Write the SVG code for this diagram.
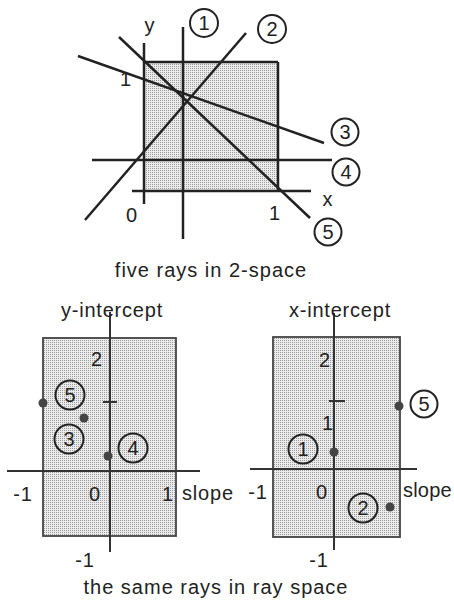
<svg xmlns="http://www.w3.org/2000/svg" width="454" height="600" viewBox="0 0 454 600">
<defs>
<pattern id="stip" width="2" height="2" patternUnits="userSpaceOnUse">
<rect width="2" height="2" fill="#ececec"/>
<rect width="1" height="1" fill="#9a9a9a"/>
</pattern>
</defs>
<style>
.ln{stroke:#222;stroke-width:2.5;fill:none;stroke-linecap:butt}
.ax{stroke:#333;stroke-width:2;fill:none}
.bx{stroke:#444;stroke-width:1.8;fill:url(#stip)}
.t{font-family:"Liberation Sans",Arial,sans-serif;font-size:20px;fill:#222;letter-spacing:0.8px}
.c{fill:#fff;fill-opacity:0;stroke:#222;stroke-width:2}
.ct{font-family:"Liberation Sans",Arial,sans-serif;font-size:20px;fill:#222;text-anchor:middle}
.dot{fill:#444}
</style>

<g id="top-plot">
<rect x="144" y="62" width="134" height="129" fill="url(#stip)"/>
<line class="ln" x1="144" y1="62" x2="278" y2="62"/>
<line class="ln" x1="278" y1="62" x2="278" y2="191"/>
<line class="ln" x1="144" y1="43" x2="144" y2="204"/>
<line class="ln" x1="132" y1="191" x2="311" y2="191"/>
<text class="t" x="150" y="32" text-anchor="middle">y</text>
<text class="t" x="126" y="86" text-anchor="middle">1</text>
<text class="t" x="132" y="222" text-anchor="middle">0</text>
<text class="t" x="275" y="220" text-anchor="middle">1</text>
<text class="t" x="328" y="206" text-anchor="middle">x</text>
</g>

<g id="rays">
<line class="ln" x1="183" y1="27" x2="183" y2="239"/>
<line class="ln" x1="85" y1="220" x2="246" y2="33"/>
<line class="ln" x1="78" y1="56" x2="324" y2="143"/>
<line class="ln" x1="92" y1="160" x2="332" y2="160"/>
<line class="ln" x1="119" y1="37" x2="310" y2="218"/>
</g>

<g id="ray-labels">
<g id="r1"><circle class="c" cx="204" cy="23" r="14"/><text class="ct" x="204" y="30">1</text></g>
<g id="r2"><circle class="c" cx="272" cy="29" r="14"/><text class="ct" x="272" y="36">2</text></g>
<g id="r3"><circle class="c" cx="345" cy="132" r="13.5"/><text class="ct" x="345" y="139">3</text></g>
<g id="r4"><circle class="c" cx="346" cy="172" r="13.5"/><text class="ct" x="346" y="179">4</text></g>
<g id="r5"><circle class="c" cx="328" cy="232" r="13.5"/><text class="ct" x="328" y="239">5</text></g>
</g>

<text class="t" x="211" y="277" text-anchor="middle" style="letter-spacing:1px">five rays in 2-space</text>

<g id="yint-plot">
<rect class="bx" x="43" y="338" width="133" height="198"/>
<line class="ax" x1="110" y1="312" x2="110" y2="552"/>
<line class="ax" x1="7" y1="471" x2="200" y2="471"/>
<line class="ax" x1="103" y1="402" x2="117" y2="402"/>
<text class="t" x="112" y="317" text-anchor="middle">y-intercept</text>
<text class="t" x="97" y="366" text-anchor="middle">2</text>
<text class="t" x="23" y="501" text-anchor="middle">-1</text>
<text class="t" x="95" y="501" text-anchor="middle">0</text>
<text class="t" x="168" y="501" text-anchor="middle">1</text>
<text class="t" x="182" y="500">slope</text>
<text class="t" x="85" y="567" text-anchor="middle">-1</text>
<circle class="dot" cx="43" cy="403" r="4.5"/>
<circle class="dot" cx="84" cy="418" r="4.5"/>
<circle class="dot" cx="108" cy="456" r="4.5"/>
<g id="y5"><circle class="c" cx="70" cy="395" r="14.5"/><text class="ct" x="70" y="402">5</text></g>
<g id="y3"><circle class="c" cx="69" cy="439" r="14.5"/><text class="ct" x="69" y="446">3</text></g>
<g id="y4"><circle class="c" cx="133" cy="448" r="14.5"/><text class="ct" x="133" y="455">4</text></g>
</g>

<g id="xint-plot">
<rect class="bx" x="273" y="337" width="127" height="200"/>
<line class="ax" x1="334" y1="313" x2="334" y2="550"/>
<line class="ax" x1="250" y1="469" x2="417" y2="469"/>
<line class="ax" x1="329" y1="401" x2="345" y2="401"/>
<text class="t" x="340" y="317" text-anchor="middle">x-intercept</text>
<text class="t" x="325" y="367" text-anchor="middle">2</text>
<text class="t" x="328" y="430" text-anchor="middle">1</text>
<text class="t" x="258" y="499" text-anchor="middle">-1</text>
<text class="t" x="322" y="499" text-anchor="middle">0</text>
<text class="t" x="403" y="497" style="letter-spacing:0.2px">slope</text>
<text class="t" x="319" y="567" text-anchor="middle">-1</text>
<circle class="dot" cx="399" cy="406" r="4.5"/>
<circle class="dot" cx="334" cy="452" r="4.5"/>
<circle class="dot" cx="390" cy="507" r="4.5"/>
<g id="x5"><circle class="c" cx="424" cy="404" r="13.5"/><text class="ct" x="424" y="411">5</text></g>
<g id="x1"><circle class="c" cx="303" cy="449" r="14.5"/><text class="ct" x="303" y="456">1</text></g>
<g id="x2"><circle class="c" cx="363" cy="508" r="14.5"/><text class="ct" x="363" y="515">2</text></g>
</g>

<text class="t" x="216" y="594" text-anchor="middle" style="letter-spacing:1px">the same rays in ray space</text>
</svg>
